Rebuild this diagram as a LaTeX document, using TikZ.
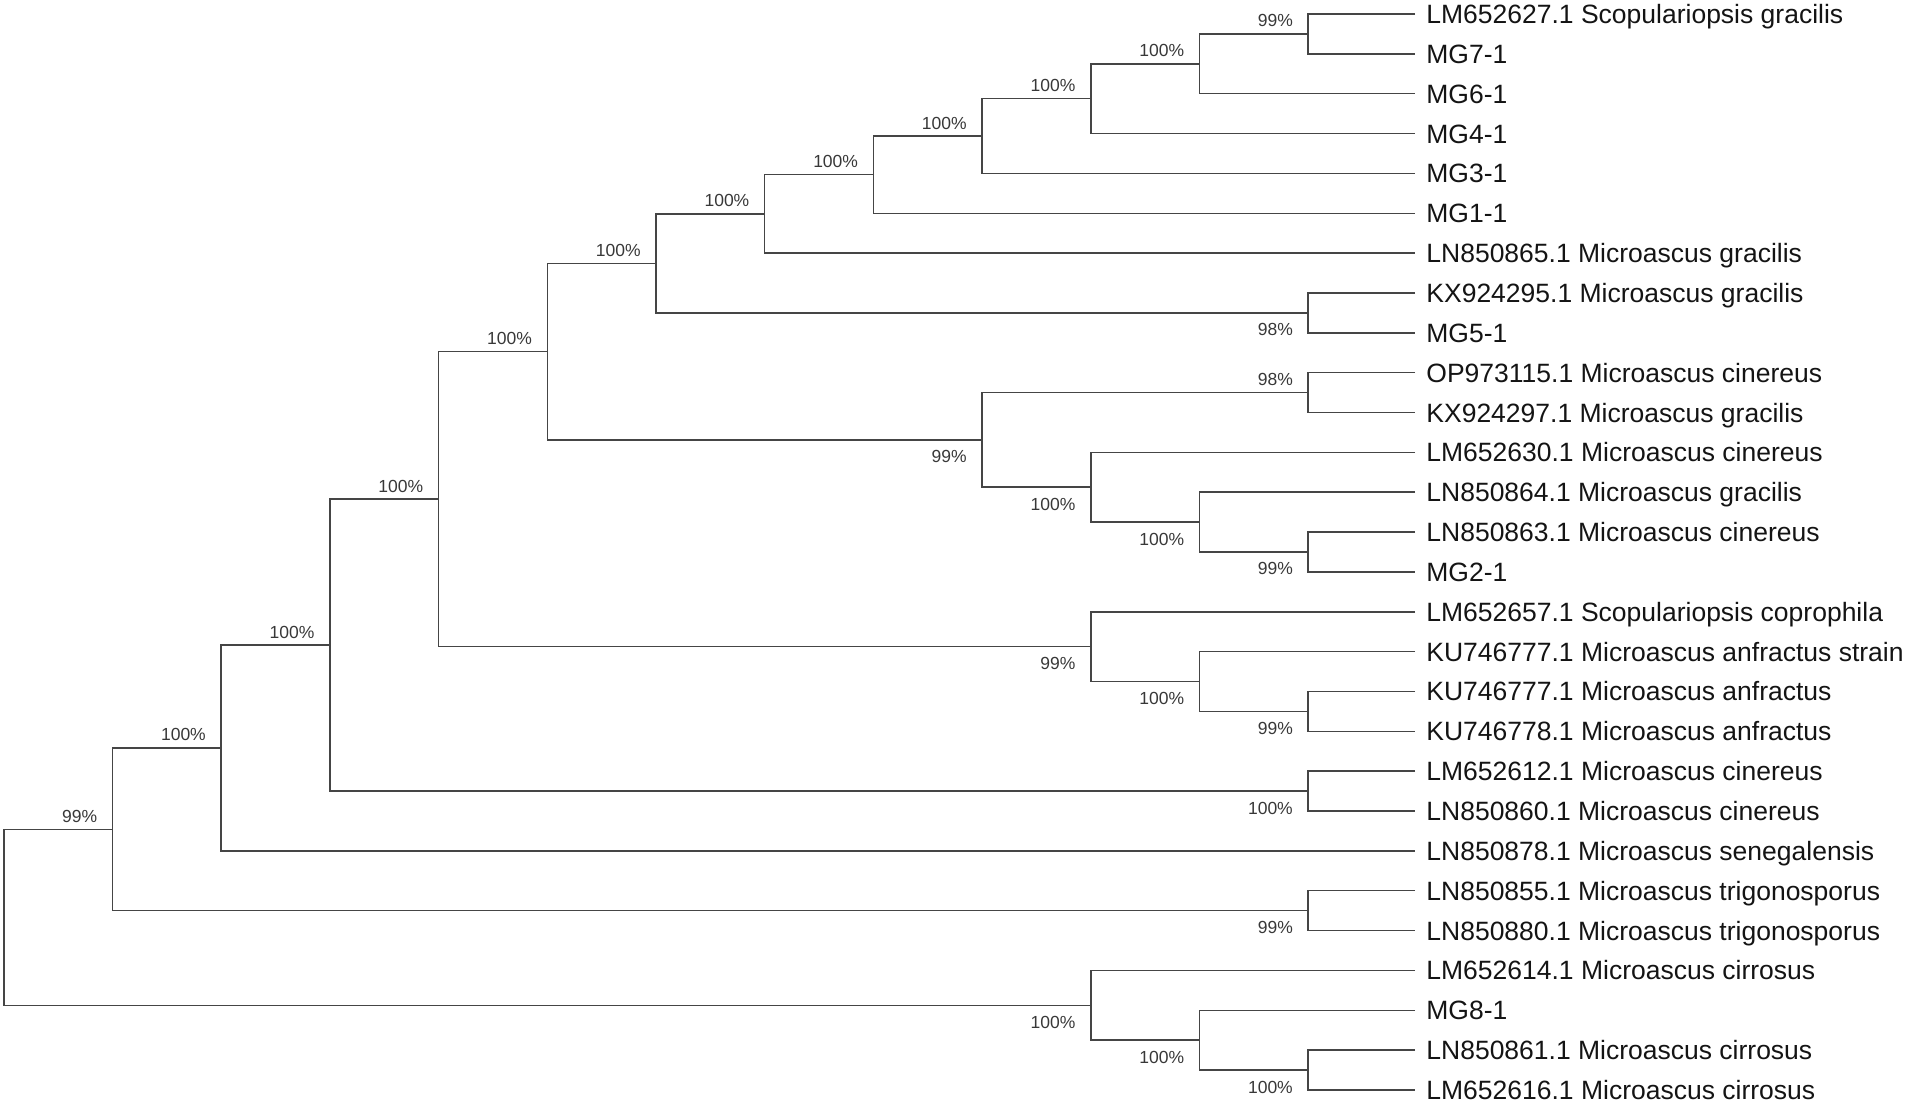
\documentclass[tikz,border=0pt]{standalone}
\usepackage{fontspec}
\setmainfont{Liberation Sans}
\usetikzlibrary{calc}
\definecolor{linegray}{HTML}{454545}
\definecolor{labgray}{HTML}{383838}
\definecolor{leaftext}{HTML}{141414}
\newcommand\inode[4]{%
  \path ($(#3)!0.5!(#4)$) coordinate (#1m);
  \coordinate (#1) at (k#2 |- #1m);
  \draw[branch] (#3) -| (#1) |- (#4);}
\begin{document}
\begin{tikzpicture}[x=0.5pt,y=-0.5pt,
  branch/.style={draw=linegray, line width=0.75pt},
  leaf/.style={anchor=west, inner xsep=5.5pt, inner ysep=0pt, text height=9.5pt, text depth=0pt,
    font=\fontsize{13.25}{15}\selectfont, text=leaftext},
  bsup/.style={anchor=base east, inner sep=0pt, xshift=-7.5pt, yshift=3.5pt,
    font=\fontsize{8.75}{10}\selectfont, text=labgray},
  bsdown/.style={anchor=base east, inner sep=0pt, xshift=-7.5pt, yshift=-11.5pt,
    font=\fontsize{8.75}{10}\selectfont, text=labgray}]
\useasboundingbox (0,0) rectangle (1906,1103);
\foreach \k in {0,...,12} \coordinate (k\k) at ({3.8+108.7*\k},0);
\foreach \i/\txt in {
 1/LM652627.1 Scopulariopsis gracilis,
 2/MG7-1,
 3/MG6-1,
 4/MG4-1,
 5/MG3-1,
 6/MG1-1,
 7/LN850865.1 Microascus gracilis,
 8/KX924295.1 Microascus gracilis,
 9/MG5-1,
 10/OP973115.1 Microascus cinereus,
 11/KX924297.1 Microascus gracilis,
 12/LM652630.1 Microascus cinereus,
 13/LN850864.1 Microascus gracilis,
 14/LN850863.1 Microascus cinereus,
 15/MG2-1,
 16/LM652657.1 Scopulariopsis coprophila,
 17/KU746777.1 Microascus anfractus strain,
 18/KU746777.1 Microascus anfractus,
 19/KU746778.1 Microascus anfractus,
 20/LM652612.1 Microascus cinereus,
 21/LN850860.1 Microascus cinereus,
 22/LN850878.1 Microascus senegalensis,
 23/LN850855.1 Microascus trigonosporus,
 24/LN850880.1 Microascus trigonosporus,
 25/LM652614.1 Microascus cirrosus,
 26/MG8-1,
 27/LN850861.1 Microascus cirrosus,
 28/LM652616.1 Microascus cirrosus}
{
  \coordinate (t\i) at (1415,{14+39.85*(\i-1)});
  \node[leaf] (l\i) at (t\i) {\txt};
}
\inode{na}{12}{t1}{t2}
\inode{nb}{11}{na}{t3}
\inode{nc}{10}{nb}{t4}
\inode{nd}{9}{nc}{t5}
\inode{ne}{8}{nd}{t6}
\inode{nf}{7}{ne}{t7}
\inode{ng}{12}{t8}{t9}
\inode{nh}{6}{nf}{ng}
\inode{ni}{12}{t10}{t11}
\inode{nj}{12}{t14}{t15}
\inode{nk}{11}{t13}{nj}
\inode{nl}{10}{t12}{nk}
\inode{nm}{9}{ni}{nl}
\inode{nn}{5}{nh}{nm}
\inode{no}{12}{t18}{t19}
\inode{np}{11}{t17}{no}
\inode{nq}{10}{t16}{np}
\inode{nr}{4}{nn}{nq}
\inode{ns}{12}{t20}{t21}
\inode{nt}{3}{nr}{ns}
\inode{nu}{2}{nt}{t22}
\inode{nv}{12}{t23}{t24}
\inode{nw}{1}{nu}{nv}
\inode{nx}{12}{t27}{t28}
\inode{ny}{11}{t26}{nx}
\inode{nz}{10}{t25}{ny}
\inode{root}{0}{nw}{nz}
% bootstrap labels
\node[bsup]   (ba) at (na) {99\%};
\node[bsup]   (bb) at (nb) {100\%};
\node[bsup]   (bc) at (nc) {100\%};
\node[bsup]   (bd) at (nd) {100\%};
\node[bsup]   (be) at (ne) {100\%};
\node[bsup]   (bf) at (nf) {100\%};
\node[bsdown] (bg) at (ng) {98\%};
\node[bsup]   (bh) at (nh) {100\%};
\node[bsup]   (bi) at (ni) {98\%};
\node[bsdown] (bj) at (nj) {99\%};
\node[bsdown] (bk) at (nk) {100\%};
\node[bsdown] (bl) at (nl) {100\%};
\node[bsdown] (bm) at (nm) {99\%};
\node[bsup]   (bn) at (nn) {100\%};
\node[bsdown] (bo) at (no) {99\%};
\node[bsdown] (bp) at (np) {100\%};
\node[bsdown] (bq) at (nq) {99\%};
\node[bsup]   (br) at (nr) {100\%};
\node[bsdown] (bs) at (ns) {100\%};
\node[bsup]   (bt) at (nt) {100\%};
\node[bsup]   (bu) at (nu) {100\%};
\node[bsdown] (bv) at (nv) {99\%};
\node[bsup]   (bw) at (nw) {99\%};
\node[bsdown] (bx) at (nx) {100\%};
\node[bsdown] (by) at (ny) {100\%};
\node[bsdown] (bz) at (nz) {100\%};
\end{tikzpicture}
\end{document}
